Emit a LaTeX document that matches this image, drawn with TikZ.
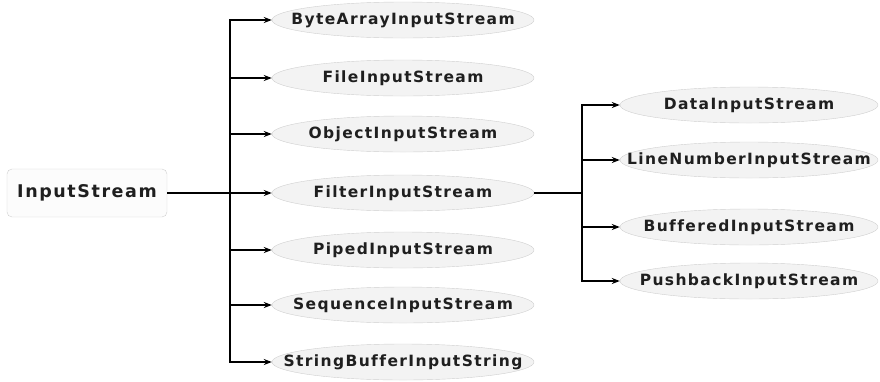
\documentclass[tikz,border=0pt]{standalone}
\usepackage{fontspec}
\setmainfont{DejaVu Sans}
\newfontfamily\clsfont[LetterSpace=9,Ligatures=NoCommon]{DejaVu Sans}
\newcommand\fixedlabel[1]{\makebox[0pt]{#1}}
\usepackage{tikz}
\usetikzlibrary{arrows.meta,shapes.geometric}

\definecolor{ellfill}{HTML}{F3F3F3}
\definecolor{ellline}{HTML}{CFCFCF}
\definecolor{boxfill}{HTML}{FCFCFC}

\begin{document}
\begin{tikzpicture}[x=1pt,y=-1pt,
    cls/.style={ellipse,draw=ellline,fill=ellfill,inner sep=0pt,
      minimum width=262pt,minimum height=36pt,text=black!88,
      font=\clsfont\fontsize{15.5}{17}\selectfont\bfseries},
    rootbox/.style={rectangle,rounded corners=5pt,draw=ellline,fill=boxfill,
      minimum width=160pt,minimum height=48pt,text=black!88,
      font=\clsfont\fontsize{17.5}{19}\selectfont\bfseries},
    link/.style={line width=1.3pt,-{Stealth[length=8pt,width=6pt]}}]
      \useasboundingbox (0,0) rectangle (880,381);
      %this draws the nodes
      \node [rootbox] (root) at (87,193) {\fixedlabel{InputStream}};
      \node [cls] (byte) at (403,20) {\fixedlabel{ByteArrayInputStream}};
      \node [cls] (file) at (403,78) {\fixedlabel{FileInputStream}};
      \node [cls] (object) at (403,134) {\fixedlabel{ObjectInputStream}};
      \node [cls] (filter) at (403,193) {\fixedlabel{FilterInputStream}};
      \node [cls] (piped) at (403,250) {\fixedlabel{PipedInputStream}};
      \node [cls] (sequence) at (403,305) {\fixedlabel{SequenceInputStream}};
      \node [cls] (stringbuf) at (403,362) {\fixedlabel{StringBufferInputString}};
      \node [cls,minimum width=258pt] (data) at (749,105) {\fixedlabel{DataInputStream}};
      \node [cls,minimum width=258pt] (linenum) at (749,160) {\fixedlabel{LineNumberInputStream}};
      \node [cls,minimum width=258pt] (buffered) at (749,227) {\fixedlabel{BufferedInputStream}};
      \node [cls,minimum width=258pt] (pushback) at (749,281) {\fixedlabel{PushbackInputStream}};
      \coordinate (split) at (230,193);
      \coordinate (subsplit) at (582,193);
      %this draws the lines
      \draw[link] (root) -- (filter);
      \foreach \x in {byte,file,object,piped,sequence,stringbuf}
        \draw[link] (split) |- (\x.west);
      \draw[line width=1.3pt] (filter) -- (subsplit);
      \foreach \x in {data,linenum,buffered,pushback}
        \draw[link] (subsplit) |- (\x.west);
    \end{tikzpicture}
\end{document}
